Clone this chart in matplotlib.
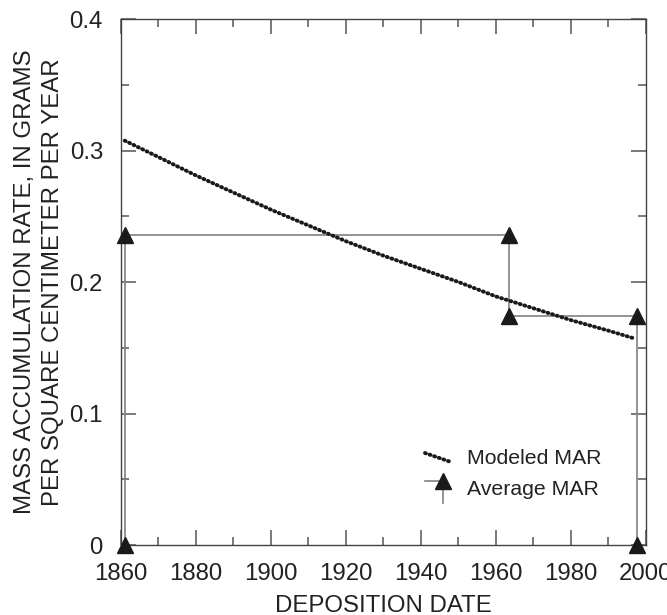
import numpy as np
import matplotlib
matplotlib.use("Agg")
import matplotlib.pyplot as plt
from matplotlib.ticker import MultipleLocator, FixedLocator, FixedFormatter

plt.rcParams['font.family'] = ['Liberation Sans', 'DejaVu Sans']

# modeled mass accumulation rate
model_year = [1861, 1870, 1880, 1890, 1900, 1910, 1920, 1930, 1940, 1950, 1960, 1970, 1980, 1990, 1997]
model_mar = [0.3075, 0.295, 0.281, 0.268, 0.255, 0.243, 0.231, 0.220, 0.210, 0.200, 0.189, 0.180, 0.171, 0.163, 0.157]

# average MAR between dated horizons
avg_year = [1861, 1861, 1963.6, 1963.6, 1997.6, 1997.6]
avg_mar = [0.0, 0.2357, 0.2357, 0.1745, 0.1745, 0.0]

xticks = [1860, 1880, 1900, 1920, 1940, 1960, 1980, 2000]
yticks = [0, 0.1, 0.2, 0.3, 0.4]
ylabels = ["0", "0.1", "0.2", "0.3", "0.4"]

txt = "#222222"
fs = 17.3
fig = plt.figure(figsize=(6.67, 6.15), dpi=100)
ax = fig.add_axes([0.1814, 0.1138, 0.7871, 0.8553])

ax.plot(avg_year, avg_mar, color="#808080", lw=1.2, zorder=2)
ax.plot(avg_year, avg_mar, ls="none", marker="^", ms=11, color="#1a1a1a", clip_on=False, zorder=4)
ax.plot(model_year, model_mar, color="#1a1a1a", lw=2.8, ls=(0, (0.25, 1.0)),
        dash_capstyle="round", zorder=3)

ax.set_xlim(1860, 2000)
ax.set_ylim(0, 0.4)
ax.xaxis.set_major_locator(FixedLocator(xticks))
ax.xaxis.set_minor_locator(MultipleLocator(10))
ax.yaxis.set_major_locator(FixedLocator(yticks))
ax.yaxis.set_major_formatter(FixedFormatter(ylabels))
ax.yaxis.set_minor_locator(MultipleLocator(0.05))
ax.tick_params(which="both", direction="in", top=True, right=True, color="#555555", width=1.1,
               labelsize=fs, labelcolor=txt)
ax.tick_params(which="major", length=11, pad=13)
ax.tick_params(which="minor", length=6)
for s in ax.spines.values():
    s.set_color("#444444")
    s.set_linewidth(1.0)

ax.set_xlabel("DEPOSITION DATE", fontsize=fs, color=txt, labelpad=7)
ax.set_ylabel("MASS ACCUMULATION RATE, IN GRAMS\nPER SQUARE CENTIMETER PER YEAR",
              fontsize=fs, color=txt, labelpad=4, linespacing=1.33)

# legend drawn by hand in axes coordinates
tr = ax.transAxes
def ax_xy(px, py):
    return ((px - 121) / 525.0, (545 - py) / 526.0)

x0, y0 = ax_xy(425, 453)
x1, y1 = ax_xy(451, 462)
ax.plot([x0, x1], [y0, y1], transform=tr, color="#1a1a1a", lw=2.8, ls=(0, (0.25, 1.0)),
        dash_capstyle="round")
hx0, hy = ax_xy(425, 481)
tx, _ = ax_xy(443, 481)
_, vy = ax_xy(443, 503)
ax.plot([hx0, tx], [hy, hy], transform=tr, color="#808080", lw=1.2)
ax.plot([tx, tx], [hy, vy], transform=tr, color="#808080", lw=1.2)
ax.plot([tx], [hy], transform=tr, marker="^", ms=11, color="#1a1a1a")
lx, ly1 = ax_xy(467, 458)
_, ly2 = ax_xy(467, 489)
ax.text(lx, ly1, "Modeled MAR", transform=tr, fontsize=15.3, color=txt, va="center", ha="left")
ax.text(lx, ly2, "Average MAR", transform=tr, fontsize=15.3, color=txt, va="center", ha="left")

fig.savefig("out.png", dpi=100)
